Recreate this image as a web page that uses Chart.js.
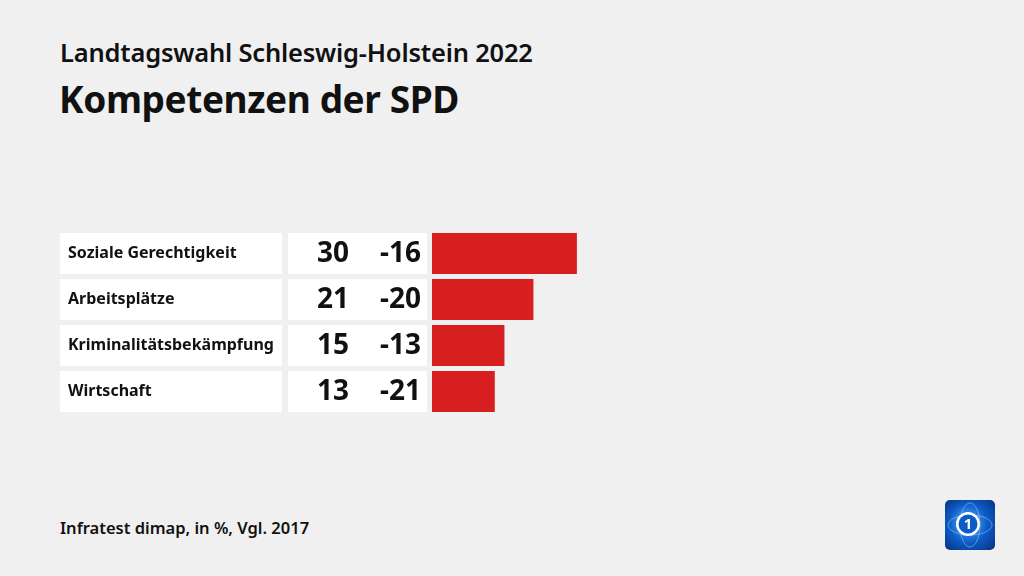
<!DOCTYPE html>
<html><head><meta charset="utf-8">
<script src="https://cdn.jsdelivr.net/npm/chart.js@4"></script>
<style>
html,body{margin:0;padding:0;background:#f0f0f0;width:1024px;height:576px;overflow:hidden;font-family:"Noto Sans",sans-serif;}
#wrap{position:absolute;left:0;top:0;width:1024px;height:576px;}
.t1{position:absolute;left:60px;top:35px;font-size:25.5px;font-weight:600;color:#111;white-space:nowrap;letter-spacing:-0.2px}
.t2{position:absolute;left:59px;top:73px;font-size:37px;font-weight:700;color:#111;white-space:nowrap;letter-spacing:-0.4px}
.src{position:absolute;left:60px;top:516px;font-size:16.5px;font-weight:600;color:#111;white-space:nowrap}
</style></head><body>
<div class="t1">Landtagswahl Schleswig-Holstein 2022</div>
<div class="t2">Kompetenzen der SPD</div>
<div class="src">Infratest dimap, in %, Vgl. 2017</div>
<div id="wrap"><canvas id="c" width="1024" height="576"></canvas></div>
<script>
const categories = ["Soziale Gerechtigkeit", "Arbeitsplätze", "Kriminalitätsbekämpfung", "Wirtschaft"];
const values = [30, 21, 15, 13];
const changes = ["-16", "-20", "-13", "-21"];

const rowPlugin = {
  id: 'rows',
  beforeDatasetsDraw(chart) {
    const ctx = chart.ctx;
    const meta = chart.getDatasetMeta(0);
    ctx.save();
    categories.forEach((cat, i) => {
      const bar = meta.data[i];
      const h = bar.height, yc = bar.y;
      ctx.fillStyle = '#ffffff';
      ctx.fillRect(60, yc - h/2, 222, h);
      ctx.fillRect(288, yc - h/2, 139, h);
      ctx.fillStyle = '#111';
      ctx.textBaseline = 'middle';
      ctx.textAlign = 'left';
      ctx.font = '700 16px "Noto Sans"';
      ctx.fillText(cat, 68, yc);
      ctx.textAlign = 'right';
      ctx.font = '700 28px "Noto Sans"';
      ctx.fillText(String(values[i]), 349, yc + 1);
      ctx.fillText(changes[i], 421, yc + 1);
    });
    ctx.restore();
  },
  afterDraw(chart) {
    const ctx = chart.ctx;
    ctx.save();
    const x = 945, yy = 500, w = 50, h = 50, r = 5;
    const g = ctx.createRadialGradient(x + 22, yy + 22, 3, x + 25, yy + 25, 36);
    g.addColorStop(0, '#4fa8ff'); g.addColorStop(0.5, '#0d5bc6'); g.addColorStop(1, '#062f7a');
    ctx.fillStyle = g;
    ctx.beginPath(); ctx.roundRect(x, yy, w, h, r); ctx.fill();
    ctx.strokeStyle = 'rgba(160,210,255,0.5)'; ctx.lineWidth = 1;
    ctx.beginPath(); ctx.ellipse(x + 25, yy + 25, 22, 10, 0, 0, Math.PI*2); ctx.stroke();
    ctx.beginPath(); ctx.ellipse(x + 25, yy + 25, 10, 22, 0, 0, Math.PI*2); ctx.stroke();
    ctx.fillStyle = '#fff';
    ctx.beginPath(); ctx.arc(x + 23, yy + 24, 12, 0, Math.PI*2); ctx.fill();
    ctx.fillStyle = '#0d5bc6';
    ctx.beginPath(); ctx.arc(x + 23, yy + 24, 9.5, 0, Math.PI*2); ctx.fill();
    ctx.fillStyle = '#fff';
    ctx.font = '700 15px "Noto Sans"'; ctx.textAlign = 'center'; ctx.textBaseline = 'middle';
    ctx.fillText('1', x + 23, yy + 25);
    ctx.restore();
  }
};

new Chart(document.getElementById('c'), {
  type: 'bar',
  data: {
    labels: categories,
    datasets: [{ data: values, backgroundColor: '#d71f1f', borderWidth: 0,
      barPercentage: 41/46, categoryPercentage: 1 }]
  },
  options: {
    responsive: false, animation: false, indexAxis: 'y',
    layout: { padding: { left: 432, right: 109, top: 230.5, bottom: 161.5 } },
    scales: {
      x: { display: false, min: 0, max: 100 },
      y: { display: false }
    },
    plugins: { legend: { display: false }, tooltip: { enabled: false } }
  },
  plugins: [rowPlugin]
});
</script>
</body></html>
